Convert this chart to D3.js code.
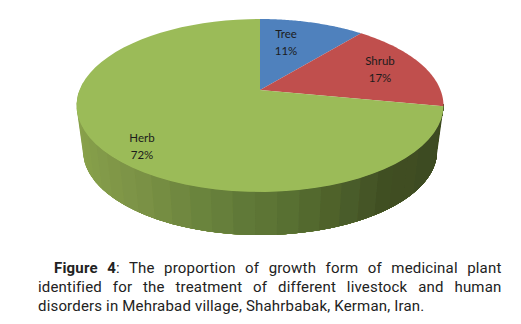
<!DOCTYPE html>
<html><head><meta charset="utf-8">
<script src="https://cdn.jsdelivr.net/npm/d3@7/dist/d3.min.js"></script>
<style>html,body{margin:0;background:#fff}svg{display:block}</style></head>
<body><svg id="c" width="521" height="324"></svg>
<script>
const categories = ["Tree","Shrub","Herb"];
const percents = [11,17,72];
const colours = ["#4f81bd","#c0504d","#9bbb59"];
const captionFirst = ["Figure 4",": The proportion of growth form of medicinal plant"];
const captionRest = ["identified for the treatment of different livestock and human","disorders in Mehrabad village, Shahrbabak, Kerman, Iran."];

const svg = d3.select("#c");
svg.append("defs").append("filter").attr("id","soft").append("feGaussianBlur").attr("stdDeviation",0.45);
const cx=260, cy=90, R=180.5, A=67.6, C=-0.179, depth=46, baseShrink=0.965;
// perspective projection of the pie's circle on the tabletop
function proj(a, shrink=1, dy=0){
  const u=Math.sin(a), v=-Math.cos(a), d=1+C*v;
  return [cx+R*shrink*u/d, (A*shrink*v+cy)/d+dy];
}
const pie=d3.pie().sort(null).value(d=>d)(percents);
const steps=a=>d3.range(0,61).map(i=>a.startAngle+(a.endAngle-a.startAngle)*i/60);
const line=d3.line();
const chart=svg.append("g").attr("filter","url(#soft)");

// side wall of the herb slice, strips from light (left) to dark (right)
const shade=d3.scaleLinear().domain([-1,-0.6,-0.2,0.2,0.6,1])
  .range(["#8aa34c","#7c9345","#67803b","#556b30","#414f24","#3c4a20"]);
const lo=Math.PI*0.55, hi=Math.PI*1.53;
const nStrips=30;
const wall=chart.append("g");
// painted from the left so that each strip overlaps the previous one and no seams show
d3.range(nStrips).forEach(i=>{
  const a1=hi-(hi-lo)*i/nStrips, a0=a1-(hi-lo)/nStrips;
  const angs=d3.range(0,5).map(k=>lo+(a1-lo)*k/4).filter(a=>a>=lo);
  const fine=d3.range(0,21).map(k=>lo+(a1-lo)*k/20);
  const top=fine.map(a=>proj(a));
  const bot=fine.map(a=>proj(a,baseShrink,depth)).reverse();
  wall.append("path").attr("d",line(top.concat(bot))+"Z")
    .attr("fill",shade(Math.sin((a0+a1)/2)));
});

// top faces
chart.append("g").selectAll("path").data(pie).join("path")
  .attr("d",d=>line([[cx,cy]].concat(steps(d).map(a=>proj(a))))+"Z")
  .attr("fill",(d,i)=>colours[i]);

// data labels
const labelPos=[[286,38],[380,65],[142,142]];
const labels=svg.append("g").attr("font-family","Lato, 'Open Sans', sans-serif").attr("font-size",11.5).attr("text-anchor","middle").attr("fill","#1c1c1c");
categories.forEach((c,i)=>{
  const g=labels.append("g").attr("transform",`translate(${labelPos[i][0]},${labelPos[i][1]})`);
  g.append("text").text(c);
  g.append("text").attr("y",17).text(percents[i]+"%");
});

// justified caption
const cap=svg.append("g").attr("font-family","Roboto, sans-serif").attr("font-size",15).attr("letter-spacing",0.18).attr("fill","#222");
const right=501.5;
function justify(t,x){
  const n=(t.text().match(/ /g)||[]).length;
  const w=t.node().getComputedTextLength();
  t.attr("word-spacing",(right-x-w)/n);
}
const l1=cap.append("text").attr("x",54).attr("y",273);
l1.append("tspan").attr("font-weight",700).text(captionFirst[0]);
l1.append("tspan").text(captionFirst[1]);
justify(l1,54);
const l2=cap.append("text").attr("x",38).attr("y",292).text(captionRest[0]);
justify(l2,38);
cap.append("text").attr("x",38).attr("y",311).text(captionRest[1]);
</script></body></html>
